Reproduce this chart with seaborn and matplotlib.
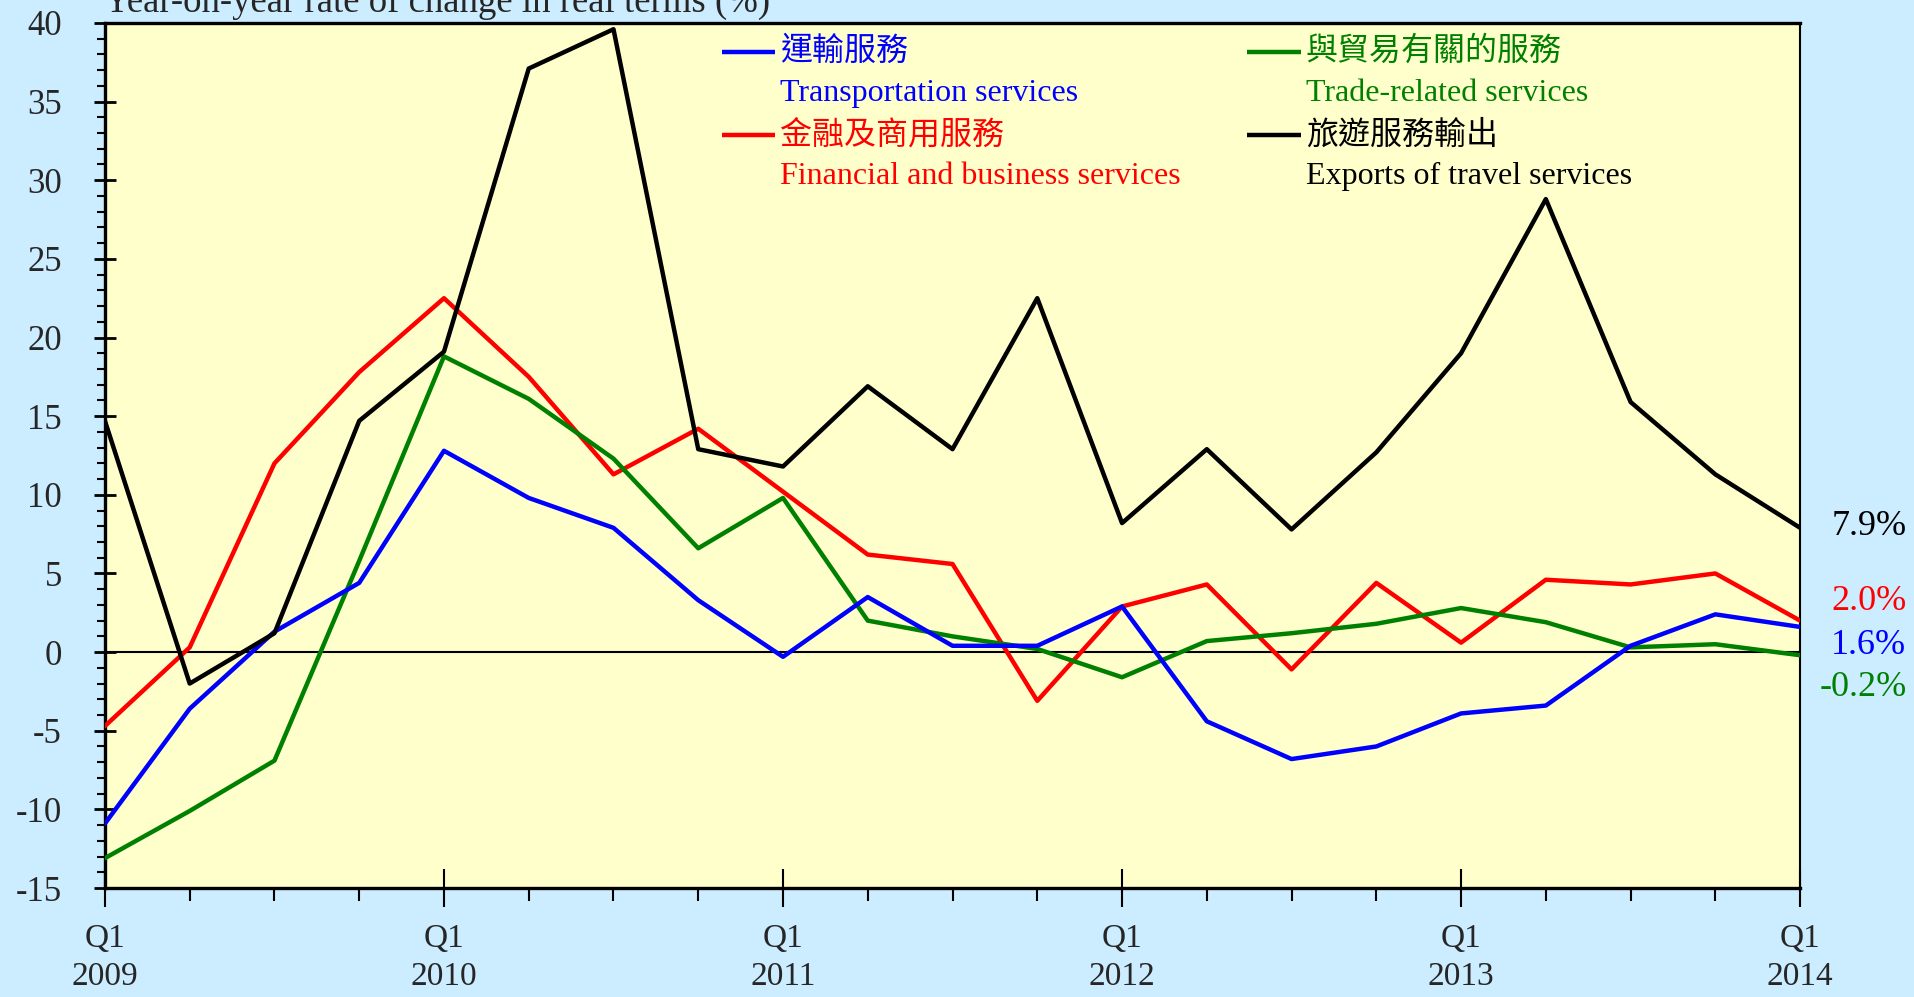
import matplotlib

matplotlib.use("Agg")
import matplotlib.pyplot as plt
import matplotlib.transforms as mtransforms
from matplotlib.lines import Line2D
from matplotlib.ticker import MultipleLocator, FixedLocator
import seaborn as sns
import pandas as pd

# quarter index 0 = 2009 Q1 ... 20 = 2014 Q1
quarters = list(range(21))
major_quarters = [0, 4, 8, 12, 16, 20]
major_labels = ["Q1\n2009", "Q1\n2010", "Q1\n2011", "Q1\n2012", "Q1\n2013", "Q1\n2014"]

transport = [-10.9, -3.6, 1.3, 4.4, 12.8, 9.8, 7.9, 3.3, -0.3, 3.5, 0.4,
             0.4, 2.9, -4.4, -6.8, -6.0, -3.9, -3.4, 0.4, 2.4, 1.6]
financial = [-4.7, 0.3, 12.0, 17.8, 22.5, 17.5, 11.3, 14.2, 10.2, 6.2, 5.6,
             -3.1, 2.9, 4.3, -1.1, 4.4, 0.6, 4.6, 4.3, 5.0, 2.0]
trade = [-13.1, -10.1, -6.9, 5.8, 18.8, 16.1, 12.3, 6.6, 9.8, 2.0, 1.0,
         0.2, -1.6, 0.7, 1.2, 1.8, 2.8, 1.9, 0.3, 0.5, -0.2]
travel = [14.7, -2.0, 1.2, 14.7, 19.1, 37.1, 39.6, 12.9, 11.8, 16.9, 12.9,
          22.5, 8.2, 12.9, 7.8, 12.7, 19.0, 28.8, 15.9, 11.3, 7.9]

series_keys = ["transport", "financial", "trade", "travel"]
series_cn = ["運輸服務", "金融及商用服務", "與貿易有關的服務", "旅遊服務輸出"]
series_en = ["Transportation services", "Financial and business services",
             "Trade-related services", "Exports of travel services"]
colors = {"transport": "#0000FF", "financial": "#FF0000", "trade": "#008000", "travel": "#000000"}
end_labels = ["1.6%", "2.0%", "-0.2%", "7.9%"]

df = pd.concat([
    pd.DataFrame({"q": quarters, "value": vals, "series": key})
    for key, vals in zip(series_keys, [transport, financial, trade, travel])
])

sns.set_style("white")
plt.rcParams["font.family"] = ["Liberation Serif", "Noto Sans CJK TC"]
plt.rcParams["axes.unicode_minus"] = False

BG = "#CCECFF"
PLOT_BG = "#FFFFCC"
FS_TICK = 24
FS_LEG = 23

fig = plt.figure(figsize=(19.15, 9.97), dpi=100, facecolor=BG)
ax = fig.add_axes([0.0548, 0.1093, 0.940 - 0.0548, 0.977 - 0.1093])
ax.set_facecolor(PLOT_BG)

ax.axhline(0, color="black", lw=1.5, zorder=1)
sns.lineplot(data=df, x="q", y="value", hue="series", palette=colors,
             hue_order=["financial", "trade", "transport", "travel"],
             linewidth=3.2, legend=False, ax=ax, zorder=3)

ax.set_xlim(0, 20)
ax.set_ylim(-15, 40)
ax.set_xlabel("")
ax.set_ylabel("")

ax.xaxis.set_major_locator(FixedLocator(major_quarters))
ax.set_xticklabels(major_labels, fontsize=FS_TICK, linespacing=1.32)
ax.xaxis.set_minor_locator(MultipleLocator(1))
ax.yaxis.set_major_locator(MultipleLocator(5))
ax.yaxis.set_minor_locator(MultipleLocator(1))
for lab in ax.get_yticklabels():
    lab.set_fontsize(FS_TICK + 1)

ax.tick_params(axis="x", which="major", direction="inout", length=27, width=1.5, pad=12, color="black")
ax.tick_params(axis="x", which="minor", direction="out", length=9.5, width=1.5, color="black")
ax.tick_params(axis="y", which="major", direction="inout", length=16, width=2, pad=23, color="black")
ax.tick_params(axis="y", which="minor", direction="out", length=6, width=1.5, color="black")
ax.tick_params(bottom=True, left=True, which="both")

for side in ["top", "bottom", "left"]:
    ax.spines[side].set_linewidth(2.4)
    ax.spines[side].set_color("black")
ax.spines["right"].set_linewidth(1.5)
ax.spines["right"].set_color("black")

# legend drawn by hand: two columns, Chinese label beside the key, English below
legend_slots = {"transport": (0.3638, 0.9665), "financial": (0.3638, 0.870),
                "trade": (0.674, 0.9665), "travel": (0.674, 0.870)}
for key, cn, en in zip(series_keys, series_cn, series_en):
    x0, y0 = legend_slots[key]
    ax.add_line(Line2D([x0, x0 + 0.0315], [y0, y0], transform=ax.transAxes,
                       color=colors[key], lw=3.2, solid_capstyle="butt"))
    ax.text(x0 + 0.0345, y0, cn, transform=ax.transAxes, color=colors[key],
            fontsize=FS_LEG, va="center", ha="left")
    ax.text(x0 + 0.0345, y0 - 0.0475, en, transform=ax.transAxes, color=colors[key],
            fontsize=FS_LEG, va="center", ha="left")

# latest values at the right end
trans = mtransforms.blended_transform_factory(ax.transAxes, ax.transData)
end_y = {"travel": 8.0, "financial": 3.2, "transport": 0.4, "trade": -2.25}
for key, lab in zip(series_keys, end_labels):
    ax.text(1.0627, end_y[key], lab, transform=trans, color=colors[key],
            fontsize=26, ha="right", va="center", clip_on=False)

fig.text(0.0543, 0.988, "Year-on-year rate of change in real terms (%)",
         fontsize=26.5, ha="left", va="baseline")

fig.savefig("out.png", dpi=100, facecolor=BG)
